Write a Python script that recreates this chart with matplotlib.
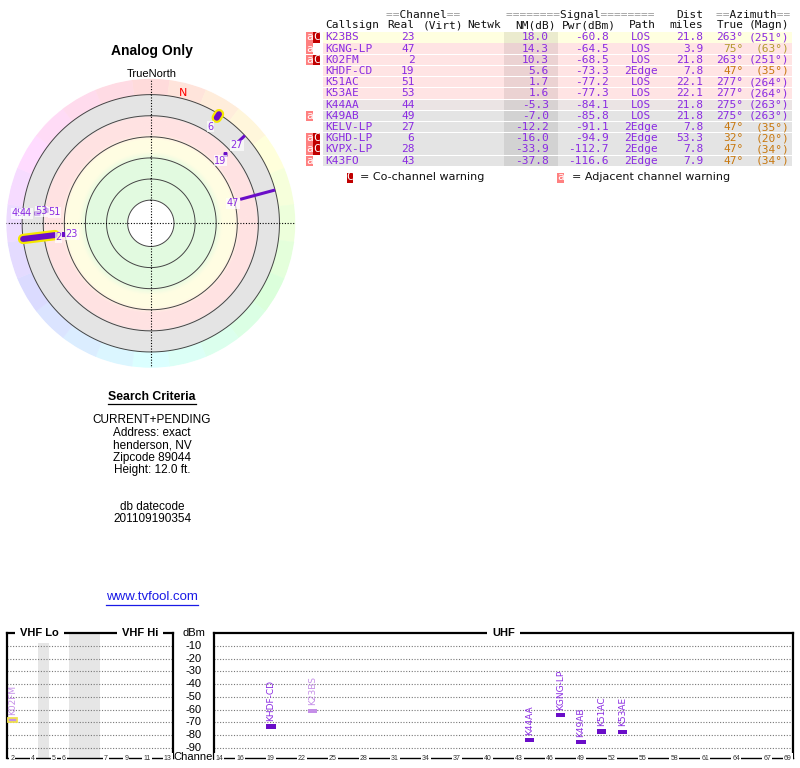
import numpy as np
import matplotlib.pyplot as plt
import matplotlib.colors as mcolors
from matplotlib import transforms
from matplotlib.patches import Rectangle

# station table, strongest first
callsigns = ['K23BS', 'KGNG-LP', 'K02FM', 'KHDF-CD', 'K51AC', 'K53AE',
             'K44AA', 'K49AB', 'KELV-LP', 'KGHD-LP', 'KVPX-LP', 'K43FO']
real_ch = [23, 47, 2, 19, 51, 53, 44, 49, 27, 6, 28, 43]
nm_db = [18.0, 14.3, 10.3, 5.6, 1.7, 1.6, -5.3, -7.0, -12.2, -16.0, -33.9, -37.8]
pwr_dbm = [-60.8, -64.5, -68.5, -73.3, -77.2, -77.3, -84.1, -85.8, -91.1, -94.9, -112.7, -116.6]
path = ['LOS', 'LOS', 'LOS', '2Edge', 'LOS', 'LOS', 'LOS', 'LOS', '2Edge', '2Edge', '2Edge', '2Edge']
dist_mi = [21.8, 3.9, 21.8, 7.8, 22.1, 22.1, 21.8, 21.8, 7.8, 53.3, 7.8, 7.9]
az_true = [263, 75, 263, 47, 277, 277, 275, 275, 47, 32, 47, 47]
az_magn = [251, 63, 251, 35, 264, 264, 263, 263, 35, 20, 34, 34]
warn_adj = [True, True, True, False, False, False, False, True, False, True, True, True]
warn_co = [True, False, True, False, False, False, False, False, False, True, True, False]
polar_tail = [False, True, True, False, False, False, False, False, True, True, False, False]

vhf_ticks = [2, 4, 5, 6, 7, 9, 11, 13]
uhf_ticks = [14, 16, 19, 22, 25, 28, 31, 34, 37, 40, 43, 46, 49, 52, 55, 58, 61, 64, 67, 69]
dbm_ticks = [-10, -20, -30, -40, -50, -60, -70, -80, -90]

criteria = ['CURRENT+PENDING', 'Address: exact', 'henderson, NV', 'Zipcode 89044', 'Height: 12.0 ft.']
datecode = '201109190354'

PURPLE = '#8a2be2'
DARK = '#6a0dc8'
LIGHT = '#c58ee8'
MONO = 'DejaVu Sans Mono'
SANS = 'Liberation Sans'

fig = plt.figure(figsize=(8, 7.68), dpi=100)

# overlay in pixel coordinates for table and text
ov = fig.add_axes([0, 0, 1, 1], zorder=10)
ov.set_xlim(0, 800)
ov.set_ylim(768, 0)
ov.axis('off')
ov.patch.set_visible(False)

# ---------------- polar plot ----------------
pax = fig.add_axes([0.00788, 0.5211, 0.36125, 0.3763], projection='polar')
pax.set_theta_zero_location('N')
pax.set_theta_direction(-1)
pax.axis('off')

def nm_to_r(nm):
    return 102 - nm

band_r = [22, 61, 68, 80, 85, 101, 102.5, 122]
band_c = ['#e2fae0', '#e2fae0', '#fffde2', '#fffde2', '#ffe2e2', '#ffe2e2', '#e4e4e4', '#e4e4e4']
band_rgb = np.array([mcolors.to_rgb(c) for c in band_c])
rr = np.linspace(22, 122, 101)
for r0, r1 in zip(rr[:-1], rr[1:]):
    rm = 0.5 * (r0 + r1)
    col = [np.interp(rm, band_r, band_rgb[:, k]) for k in range(3)]
    pax.bar(np.pi, r1 - r0, width=2 * np.pi, bottom=r0, color=col, edgecolor=col, linewidth=0.4)
pax.bar(np.pi, 22, width=2 * np.pi, bottom=0, color='white', edgecolor='white', linewidth=0.4)

for k in range(24):
    col = mcolors.hsv_to_rgb((k / 24, 0.14, 1.0))
    pax.bar(np.radians(k * 15), 15, width=np.radians(15), bottom=122,
            color=col, edgecolor=col, linewidth=0.3)

th = np.linspace(0, 2 * np.pi, 361)
for r in [22, 42, 62, 82, 102, 122]:
    pax.plot(th, np.full_like(th, r), color='#444444', lw=0.7)
for a in [0, 90, 180, 270]:
    pax.plot([np.radians(a)] * 2, [0, 137], color='black', lw=0.8, ls=(0, (1, 1.5)))
pax.set_rlim(0, 137)

label_off = {23: (9, 0), 47: (-7, 4), 2: (4, 2), 19: (-5, 7), 51: (9, 2), 53: (-4, 1),
             44: (-12, 0), 49: (-19, 0), 27: (-2, 4), 6: (-6, 9)}

for i in reversed(range(len(callsigns))):
    if nm_db[i] < -20:
        continue
    t = np.radians(az_true[i])
    r = nm_to_r(nm_db[i])
    vhf = real_ch[i] <= 13
    if polar_tail[i]:
        if vhf:
            pax.plot([t, t], [r, 122], color='#f5e800', lw=7.5, solid_capstyle='round', zorder=4)
            pax.plot([t, t], [r, 122], color=DARK, lw=4.3, solid_capstyle='round', zorder=5)
        else:
            pax.plot([t, t], [r, 122], color=DARK, lw=2.2, solid_capstyle='butt', zorder=5)
    else:
        pax.plot([t], [r], marker='s', ms=2.3, color=DARK, mec='none', zorder=5)
    dx, dy = label_off.get(real_ch[i], (6, 0))
    pax.annotate(str(real_ch[i]), xy=(t, r), xytext=(dx, -dy), textcoords='offset pixels',
                 ha='center', va='center', fontsize=7, color=PURPLE, zorder=6,
                 bbox=dict(boxstyle='square,pad=0.05', fc='white', ec='none', alpha=0.7))

pax.text(np.radians(13.8), 127.5, 'N', color='red', fontsize=8, ha='center', va='center')

ov.text(152, 51.5, 'Analog Only', ha='center', va='center', fontsize=10, fontweight='bold', family=SANS)
ov.text(152, 74, 'TrueNorth', ha='center', va='center', fontsize=8, family=SANS)

# ---------------- search criteria ----------------
sc = ov.text(152, 397, 'Search Criteria', ha='center', va='center', fontsize=8.8,
             fontweight='bold', family=SANS)
for k, line in enumerate(criteria):
    ov.text(152, 420 + 12.5 * k, line, ha='center', va='center', fontsize=8.5, family=SANS)
ov.text(152, 506.5, 'db datecode', ha='center', va='center', fontsize=8.5, family=SANS)
ov.text(152, 518.5, datecode, ha='center', va='center', fontsize=8.5, family=SANS)
url = ov.text(152, 597.5, 'www.tvfool.com', ha='center', va='center', fontsize=9.5,
              family=SANS, color='#1a1ae6')

# ---------------- table ----------------
cw = 0.602 * 8 * 100 / 72
row_y = 37.3 + 11.22 * np.arange(len(callsigns))

def two_tone(x, y, s):
    body = ''.join(' ' if ch == '=' else ch for ch in s)
    eqs = ''.join(ch if ch == '=' else ' ' for ch in s)
    ov.text(x, y, body, ha='left', va='center', family=MONO, fontsize=8, color='#111111')
    ov.text(x, y, eqs, ha='left', va='center', family=MONO, fontsize=8, color='#999999')

def mono(x, y, s, ha='left', color='#111111'):
    ov.text(x, y, s, ha=ha, va='center', family=MONO, fontsize=8, color=color)

two_tone(386.5, 14.7, '==Channel==')
two_tone(506.5, 14.7, '========Signal========')
mono(703.5, 14.7, 'Dist', ha='right')
two_tone(716.5, 14.7, '==Azimuth==')
hy = 25.3
mono(325.5, hy, 'Callsign')
mono(414.5, hy, 'Real', ha='right')
mono(422.5, hy, '(Virt)')
mono(467.5, hy, 'Netwk')
mono(555.5, hy, 'NM(dB)', ha='right')
mono(615.5, hy, 'Pwr(dBm)', ha='right')
mono(642, hy, 'Path', ha='center')
mono(703.5, hy, 'miles', ha='right')
mono(743.5, hy, 'True', ha='right')
mono(789.5, hy, '(Magn)', ha='right')

row_nm = [-7, 0, 14.9, 15.0]
row_cols = np.array([mcolors.to_rgb(c) for c in ['#e4e4e4', '#ffe4e4', '#ffe4e4', '#ffffe0']])

for i, y in enumerate(row_y):
    bg = [np.interp(nm_db[i], row_nm, row_cols[:, k]) for k in range(3)]
    ov.add_patch(Rectangle((322.7, y - 5.1), 469, 10.4, fc=bg, ec='none'))
    ov.add_patch(Rectangle((504, y - 5.1), 54, 10.4, fc=np.array(bg) * 0.92, ec='none'))
    if warn_adj[i]:
        ov.add_patch(Rectangle((306, y - 5.1), 6.7, 10.4, fc='#ff8080', ec='none'))
        mono(309.35, y, 'a', ha='center', color='white')
    if warn_co[i]:
        ov.add_patch(Rectangle((313.3, y - 5.1), 7.0, 10.4, fc='#c00000', ec='none'))
        mono(316.8, y, 'C', ha='center', color='white')
    if az_true[i] < 60:
        azc = '#c8780f'
    elif az_true[i] < 180:
        azc = '#b39b2e'
    else:
        azc = PURPLE
    mono(325.5, y, callsigns[i], color=PURPLE)
    mono(414.5, y, str(real_ch[i]), ha='right', color=PURPLE)
    mono(548.8, y, f'{nm_db[i]:.1f}', ha='right', color=PURPLE)
    mono(608.8, y, f'{pwr_dbm[i]:.1f}', ha='right', color=PURPLE)
    mono(641, y, path[i], ha='center', color=PURPLE)
    mono(703.5, y, f'{dist_mi[i]:.1f}', ha='right', color=PURPLE)
    mono(743.5, y, f'{az_true[i]}°', ha='right', color=azc)
    mono(789.5, y, f'({az_magn[i]}°)', ha='right', color=azc)

ov.add_patch(Rectangle((346.7, 172.5), 6.6, 10, fc='#c00000', ec='none'))
mono(350, 177.5, 'C', ha='center', color='white')
ov.text(360, 177.5, '= Co-channel warning', ha='left', va='center', fontsize=8, color='#111111')
ov.add_patch(Rectangle((557.3, 172.5), 6.6, 10, fc='#ff8080', ec='none'))
mono(560.6, 177.5, 'a', ha='center', color='white')
ov.text(571.5, 177.5, '= Adjacent channel warning', ha='left', va='center', fontsize=8, color='#111111')

# ---------------- spectrum panels ----------------
def vhf_slot(ch):
    if ch <= 4:
        return ch - 2
    if ch <= 6:
        return ch - 1
    return ch + 2

ax_v = fig.add_axes([7 / 800, 10 / 768, 166 / 800, 125 / 768])
ax_u = fig.add_axes([214 / 800, 10 / 768, 579 / 800, 125 / 768])
ax_v.set_xlim(-0.5, 15.5)
ax_u.set_xlim(13.5, 69.5)
ax_v.axvspan(2.5, 3.5, color='#e6e6e6', lw=0)
ax_v.axvspan(5.5, 8.5, color='#e6e6e6', lw=0)

for ax in (ax_v, ax_u):
    ax.set_ylim(-98, 0)
    ax.set_xticks([])
    ax.set_yticks([])
    for s in ('left', 'right', 'top'):
        ax.spines[s].set_linewidth(1.6)
    ax.spines['bottom'].set_linewidth(1.0)
    for g in dbm_ticks:
        ax.axhline(g, color='#777777', lw=0.8, ls=(0, (1, 1.5)), zorder=1)

for tk in vhf_ticks:
    ax_v.text(vhf_slot(tk), 0, str(tk), transform=ax_v.get_xaxis_transform(), ha='center',
              va='center', fontsize=5, family=SANS, color='#333333', clip_on=False,
              bbox=dict(boxstyle='square,pad=0.15', fc='white', ec='none'))
for tk in uhf_ticks:
    ax_u.text(tk, 0, str(tk), transform=ax_u.get_xaxis_transform(), ha='center',
              va='center', fontsize=5, family=SANS, color='#333333', clip_on=False,
              bbox=dict(boxstyle='square,pad=0.15', fc='white', ec='none'))

for i in range(len(callsigns)):
    if nm_db[i] < -10:
        continue
    ch = real_ch[i]
    if ch <= 13:
        ax, x = ax_v, vhf_slot(ch)
    else:
        ax, x = ax_u, ch
    fc = LIGHT if warn_co[i] else DARK
    tc = LIGHT if warn_co[i] else PURPLE
    if ch <= 13:
        ax.bar(x, 3.2, width=0.9, bottom=pwr_dbm[i] - 1.6, color=fc, edgecolor='#f0e050', lw=1.3, zorder=3)
    else:
        ax.bar(x, 3.2, width=0.9, bottom=pwr_dbm[i] - 1.6, color=fc, lw=0, zorder=3)
    ax.text(x, pwr_dbm[i] + 4.5, callsigns[i], rotation=90, ha='center', va='bottom',
            fontsize=6.5, color=tc, zorder=4)

mid = transforms.blended_transform_factory(ov.transData, ax_u.transData)
for g in dbm_ticks:
    ov.text(194, g, str(g), transform=mid, ha='center', va='center', fontsize=8, family=SANS)
ov.text(194, 633.5, 'dBm', ha='center', va='center', fontsize=8, family=SANS)
ov.text(194, 757.5, 'Channel', ha='center', va='center', fontsize=8, family=SANS)

for x, s in [(39.5, 'VHF Lo'), (140, 'VHF Hi'), (503.5, 'UHF')]:
    ov.text(x, 633, s, ha='center', va='center', fontsize=8, fontweight='bold', family=SANS,
            bbox=dict(boxstyle='square,pad=0.45', fc='white', ec='none'))

# underlines under heading and link
fig.canvas.draw()
inv = ov.transData.inverted()
for txt, col, dy in [(sc, 'black', 6.5), (url, '#1a1ae6', 7.5)]:
    bb = txt.get_window_extent()
    (x0, _), (x1, _) = inv.transform([[bb.x0, bb.y0], [bb.x1, bb.y1]])
    y0 = txt.get_position()[1] + dy
    ov.plot([x0, x1], [y0, y0], color=col, lw=0.9)

fig.savefig('out.png', dpi=100)
